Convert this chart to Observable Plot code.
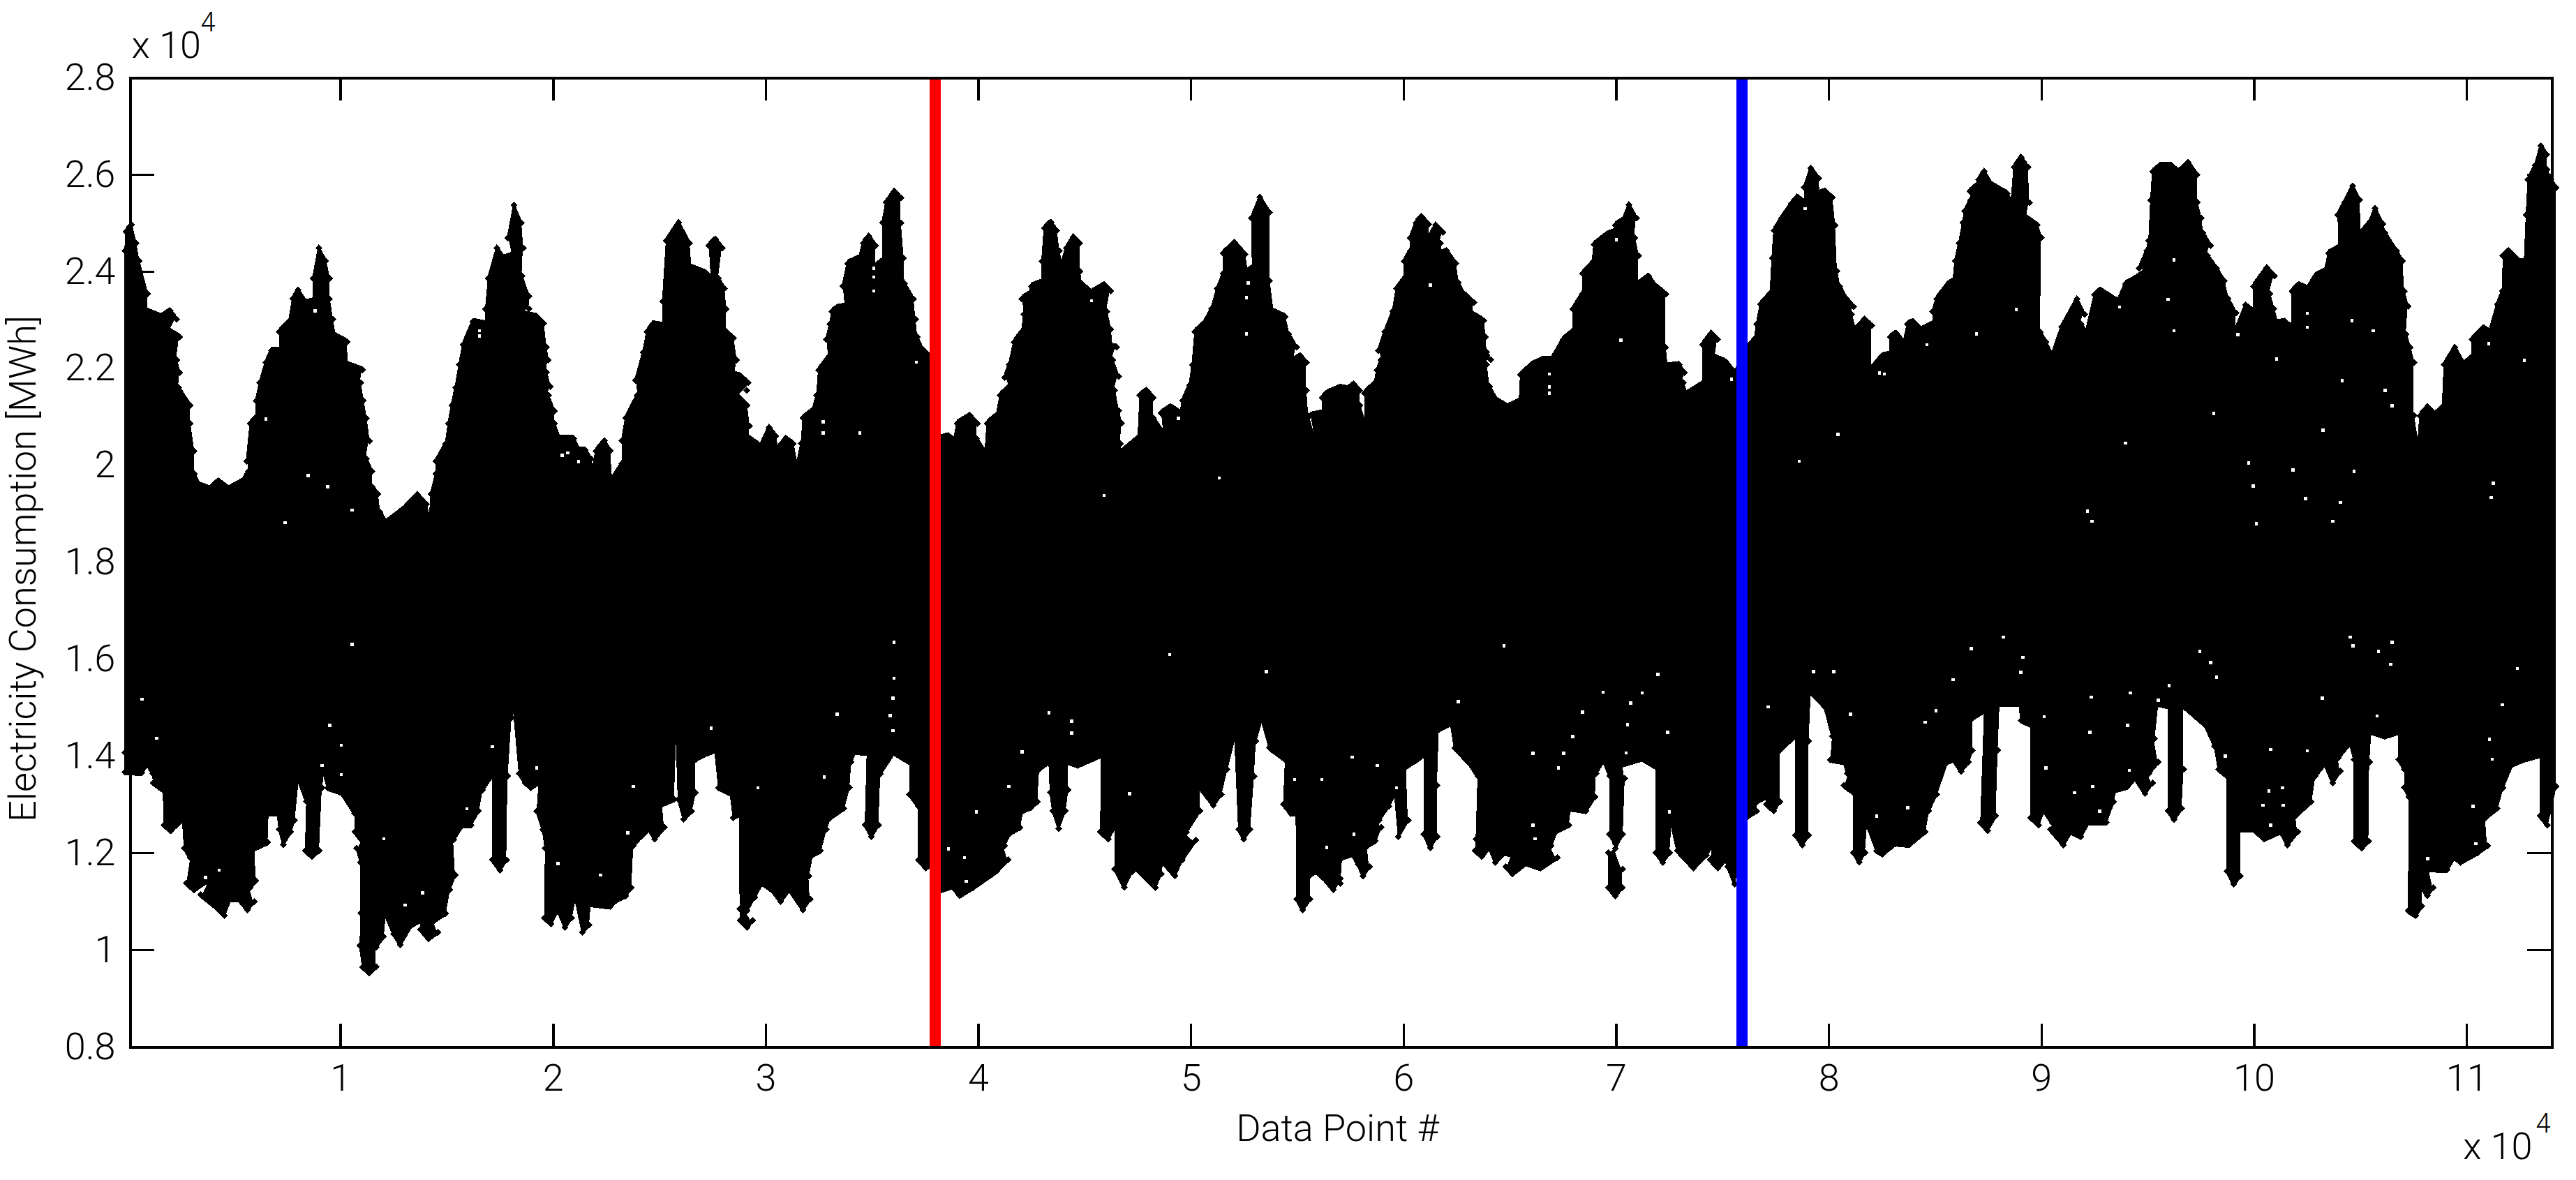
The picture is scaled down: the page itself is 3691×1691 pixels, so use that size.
<!DOCTYPE html>
<html>
<head>
<meta charset="utf-8">
<style>html,body{margin:0;padding:0;background:#fff}</style>
<script src="https://cdn.jsdelivr.net/npm/d3@7"></script>
<script src="https://cdn.jsdelivr.net/npm/@observablehq/plot@0.6"></script>
</head>
<body>
<div id="chart"></div>
<script>
// All values are in the chart's axis units (both axes are "x 10^4").
const xTicks = [1,2,3,4,5,6,7,8,9,10,11];
const yTicks = [0.8,1,1.2,1.4,1.6,1.8,2,2.2,2.4,2.6,2.8];
const xTitle = "Data Point #";
const yTitle = "Electricity Consumption [MWh]";
const splitRed = 3.797;
const splitBlue = 7.59;
const innerBand = 1.7;

// Upper edge of the point cloud
const upperA = [[-.015,2.45],[-.01,2.49],[.017,2.504],[.038,2.466],[.052,2.429],[.092,2.361],[.092,2.325],[.156,2.314],[.198,2.326],[.229,2.309],[.201,2.283],[.243,2.272],[.229,2.225],[.243,2.199],[.238,2.168],[.292,2.131],[.292,2.094],[.311,2.037],[.311,1.99],[.338,1.966],[.384,1.959],[.425,1.975],[.475,1.959],[.538,1.974],[.566,1.995],[.557,2.016],[.575,2.094],[.602,2.105],[.602,2.141],[.62,2.178],[.648,2.22],[.675,2.244],[.711,2.244],[.711,2.283],[.757,2.304],[.775,2.351],[.799,2.369],[.839,2.343],[.87,2.346],[.87,2.393],[.897,2.456],[.93,2.429],[.948,2.393],[.948,2.351],[.963,2.309],[.975,2.275],[1.03,2.262],[1.034,2.215],[1.103,2.204],[1.094,2.178],[1.107,2.141],[1.121,2.105],[1.136,2.058],[1.121,2.021],[1.148,1.995],[1.148,1.963],[1.176,1.948],[1.185,1.911],[1.216,1.89],[1.294,1.916],[1.361,1.947],[1.403,1.927],[1.418,1.901],[1.425,1.948],[1.449,1.99],[1.449,2.016],[1.494,2.052],[1.507,2.094],[1.522,2.131],[1.54,2.168],[1.558,2.215],[1.576,2.257],[1.622,2.304],[1.682,2.299],[1.682,2.33],[1.695,2.393],[1.735,2.456],[1.768,2.435],[1.804,2.44],[1.786,2.477],[1.815,2.544],[1.85,2.508],[1.859,2.456],[1.853,2.398],[1.886,2.356],[1.886,2.33],[1.868,2.319],[1.923,2.314],[1.955,2.301],[1.968,2.251],[1.977,2.225],[1.968,2.199],[1.986,2.17],[1.977,2.152],[2.005,2.12],[2.005,2.094],[2.032,2.063],[2.095,2.063],[2.123,2.039],[2.15,2.039],[2.177,2.021],[2.186,2],[2.201,2.037],[2.241,2.058],[2.268,2.037],[2.277,1.979],[2.323,2.011],[2.323,2.058],[2.341,2.105],[2.396,2.152],[2.387,2.183],[2.423,2.241],[2.441,2.283],[2.468,2.299],[2.514,2.296],[2.514,2.346],[2.532,2.471],[2.59,2.509],[2.641,2.466],[2.65,2.416],[2.723,2.403],[2.741,2.393],[2.732,2.461],[2.763,2.474],[2.796,2.456],[2.778,2.393],[2.805,2.372],[2.814,2.33],[2.814,2.283],[2.847,2.27]];
const upperB = [[2.862,2.225],[2.856,2.194],[2.883,2.191],[2.916,2.178],[2.911,2.162],[2.874,2.147],[2.911,2.131],[2.923,2.089],[2.923,2.063],[2.974,2.047],[3.015,2.086],[3.047,2.068],[3.056,2.042],[3.093,2.063],[3.129,2.052],[3.147,2.011],[3.166,2.052],[3.175,2.105],[3.22,2.12],[3.239,2.152],[3.248,2.204],[3.293,2.23],[3.284,2.267],[3.302,2.299],[3.311,2.325],[3.339,2.333],[3.371,2.335],[3.361,2.377],[3.384,2.424],[3.439,2.435],[3.457,2.466],[3.484,2.48],[3.517,2.461],[3.517,2.419],[3.548,2.429],[3.548,2.508],[3.566,2.55],[3.603,2.573],[3.635,2.56],[3.635,2.508],[3.648,2.435],[3.652,2.382],[3.694,2.351],[3.703,2.309],[3.712,2.272],[3.739,2.246],[3.77,2.233],[3.825,2.064],[3.858,2.068],[3.885,2.06],[3.9,2.094],[3.961,2.11],[3.994,2.094],[3.991,2.063],[4.031,2.035],[4.04,2.094],[4.085,2.11],[4.103,2.152],[4.14,2.168],[4.122,2.189],[4.144,2.215],[4.167,2.262],[4.204,2.283],[4.213,2.319],[4.204,2.351],[4.24,2.361],[4.249,2.377],[4.298,2.385],[4.298,2.429],[4.309,2.497],[4.34,2.509],[4.368,2.492],[4.38,2.45],[4.391,2.424],[4.413,2.456],[4.446,2.479],[4.477,2.466],[4.477,2.408],[4.486,2.382],[4.531,2.364],[4.592,2.38],[4.622,2.367],[4.604,2.325],[4.622,2.288],[4.631,2.251],[4.65,2.251],[4.631,2.225],[4.659,2.191],[4.641,2.162],[4.659,2.12],[4.673,2.094],[4.668,2.052],[4.673,2.035],[4.75,2.063],[4.759,2.152],[4.792,2.162],[4.823,2.147],[4.823,2.105],[4.868,2.076],[4.859,2.115],[4.905,2.128],[4.95,2.115],[4.959,2.141],[4.992,2.173],[5.005,2.215],[5.018,2.283],[5.059,2.299],[5.096,2.33],[5.123,2.372],[5.151,2.403],[5.151,2.445],[5.205,2.467],[5.254,2.443],[5.265,2.408],[5.287,2.414],[5.284,2.518],[5.324,2.561],[5.369,2.529],[5.369,2.388],[5.387,2.325],[5.442,2.314],[5.46,2.278],[5.496,2.251],[5.484,2.225],[5.515,2.233],[5.542,2.22],[5.542,2.162],[5.551,2.11],[5.579,2.065],[5.56,2.11],[5.615,2.115],[5.615,2.147],[5.642,2.157],[5.702,2.168]];
const upperC = [[5.735,2.165],[5.766,2.175],[5.793,2.162],[5.793,2.131],[5.815,2.1],[5.815,2.157],[5.862,2.175],[5.875,2.204],[5.893,2.225],[5.88,2.244],[5.911,2.283],[5.948,2.325],[5.966,2.372],[6.002,2.393],[6.002,2.429],[6.03,2.45],[6.03,2.477],[6.057,2.508],[6.084,2.521],[6.117,2.505],[6.117,2.477],[6.15,2.503],[6.185,2.488],[6.172,2.466],[6.179,2.445],[6.203,2.45],[6.245,2.424],[6.257,2.385],[6.285,2.361],[6.33,2.343],[6.325,2.319],[6.376,2.306],[6.385,2.272],[6.39,2.241],[6.409,2.225],[6.39,2.215],[6.403,2.17],[6.44,2.141],[6.489,2.128],[6.543,2.139],[6.549,2.194],[6.603,2.215],[6.658,2.226],[6.694,2.225],[6.749,2.267],[6.795,2.283],[6.795,2.33],[6.84,2.361],[6.84,2.403],[6.886,2.424],[6.895,2.463],[6.958,2.484],[6.995,2.49],[6.995,2.503],[7.031,2.513],[7.059,2.545],[7.095,2.518],[7.086,2.477],[7.104,2.44],[7.104,2.382],[7.153,2.398],[7.186,2.377],[7.232,2.361],[7.232,2.251],[7.241,2.212],[7.295,2.215],[7.319,2.199],[7.314,2.178],[7.332,2.155],[7.405,2.175],[7.405,2.257],[7.446,2.28],[7.477,2.267],[7.465,2.23],[7.514,2.221],[7.559,2.199],[7.616,2.251],[7.65,2.267],[7.66,2.299],[7.678,2.34],[7.723,2.361],[7.732,2.435],[7.741,2.492],[7.778,2.518],[7.823,2.547],[7.851,2.561],[7.884,2.55],[7.884,2.581],[7.915,2.621],[7.951,2.6],[7.956,2.568],[7.982,2.573],[8.015,2.56],[8.029,2.503],[8.038,2.408],[8.051,2.377],[8.084,2.351],[8.115,2.335],[8.106,2.319],[8.124,2.288],[8.169,2.309],[8.2,2.296],[8.2,2.207],[8.224,2.22],[8.251,2.233],[8.284,2.236],[8.288,2.272],[8.315,2.28],[8.352,2.262],[8.37,2.299],[8.397,2.304],[8.434,2.287],[8.488,2.299],[8.488,2.325],[8.506,2.351],[8.557,2.38]];
const upperD = [[8.584,2.388],[8.593,2.429],[8.612,2.466],[8.63,2.508],[8.639,2.532],[8.666,2.555],[8.663,2.573],[8.694,2.584],[8.703,2.597],[8.73,2.614],[8.766,2.587],[8.794,2.579],[8.839,2.568],[8.857,2.552],[8.87,2.623],[8.903,2.643],[8.936,2.623],[8.943,2.55],[8.93,2.518],[8.979,2.503],[8.999,2.477],[8.994,2.283],[9.021,2.262],[9.049,2.236],[9.094,2.293],[9.167,2.351],[9.203,2.319],[9.185,2.299],[9.209,2.283],[9.249,2.359],[9.276,2.369],[9.322,2.356],[9.358,2.346],[9.395,2.382],[9.431,2.39],[9.477,2.403],[9.458,2.414],[9.495,2.45],[9.504,2.471],[9.513,2.555],[9.522,2.613],[9.559,2.626],[9.613,2.626],[9.644,2.613],[9.69,2.632],[9.732,2.607],[9.732,2.55],[9.75,2.518],[9.759,2.487],[9.795,2.461],[9.781,2.44],[9.823,2.414],[9.859,2.388],[9.877,2.351],[9.914,2.322],[9.914,2.288],[9.959,2.338],[9.996,2.325],[9.996,2.377],[10.059,2.415],[10.096,2.398],[10.074,2.361],[10.092,2.33],[10.11,2.301],[10.145,2.304],[10.174,2.293],[10.178,2.367],[10.21,2.38],[10.25,2.372],[10.287,2.398],[10.332,2.408],[10.351,2.445],[10.396,2.456],[10.393,2.524],[10.424,2.55],[10.464,2.584],[10.496,2.555],[10.502,2.487],[10.542,2.508],[10.569,2.538],[10.606,2.505],[10.615,2.487],[10.669,2.45],[10.697,2.429],[10.706,2.367],[10.724,2.335],[10.715,2.278],[10.733,2.251],[10.751,2.22],[10.751,2.11],[10.77,2.055],[10.779,2.11],[10.815,2.128],[10.851,2.113],[10.884,2.126],[10.893,2.215],[10.943,2.251],[10.988,2.217],[11.024,2.23],[11.024,2.267],[11.079,2.291],[11.106,2.283],[11.143,2.34],[11.167,2.367],[11.17,2.44],[11.197,2.45],[11.252,2.427],[11.27,2.427],[11.279,2.524],[11.288,2.597],[11.321,2.626],[11.347,2.667],[11.376,2.649],[11.376,2.618],[11.394,2.597],[11.42,2.58]];

// Lower edge of the point cloud
const lowerA = [[-.015,1.4],[-.015,1.36],[.065,1.359],[.092,1.376],[.116,1.357],[.119,1.338],[.165,1.323],[.169,1.251],[.201,1.239],[.256,1.261],[.265,1.203],[.292,1.184],[.274,1.131],[.311,1.117],[.374,1.136],[.342,1.107],[.411,1.083],[.453,1.064],[.484,1.098],[.52,1.098],[.562,1.076],[.593,1.093],[.575,1.122],[.602,1.136],[.597,1.203],[.657,1.215],[.662,1.275],[.702,1.275],[.711,1.242],[.73,1.21],[.766,1.237],[.784,1.261],[.802,1.342],[.839,1.299],[.833,1.198],[.866,1.186],[.899,1.198],[.912,1.328],[.921,1.357],[.939,1.328],[1.003,1.318],[1.066,1.275],[1.066,1.237],[1.094,1.222],[1.076,1.203],[1.094,1.174],[1.094,1.069],[1.09,1.002],[1.103,.958],[1.134,.946],[1.167,.958],[1.167,.999],[1.203,1.021],[1.212,1.064],[1.249,1.026],[1.281,1.004],[1.336,1.045],[1.376,1.054],[1.376,1.035],[1.412,1.016],[1.458,1.03],[1.44,1.054],[1.494,1.069],[1.513,1.117],[1.54,1.148],[1.531,1.22],[1.576,1.251],[1.613,1.251],[1.649,1.28],[1.667,1.323],[1.713,1.352],[1.713,1.179],[1.749,1.158],[1.78,1.179],[1.786,1.352],[1.804,1.472],[1.813,1.489],[1.84,1.357],[1.868,1.338],[1.895,1.328],[1.931,1.338],[1.922,1.28],[1.95,1.242],[1.962,1.203],[1.959,1.059],[1.99,1.047],[2.022,1.074],[2.055,1.04],[2.086,1.059],[2.104,1.098],[2.137,1.03],[2.168,1.045],[2.177,1.088],[2.268,1.083],[2.305,1.098],[2.341,1.105],[2.368,1.122],[2.377,1.208],[2.414,1.227],[2.45,1.242],[2.478,1.222],[2.523,1.246],[2.514,1.294],[2.569,1.304],[2.578,1.429],[2.587,1.304],[2.614,1.263],[2.651,1.28],[2.669,1.318],[2.669,1.386],[2.705,1.395],[2.76,1.405],[2.778,1.328],[2.833,1.316],[2.847,1.266]];
const lowerB = [[2.874,1.273],[2.878,1.078],[2.878,1.054],[2.911,1.04],[2.938,1.054],[2.911,1.074],[2.947,1.102],[2.984,1.131],[3.029,1.117],[3.069,1.093],[3.111,1.117],[3.175,1.076],[3.208,1.098],[3.202,1.146],[3.22,1.189],[3.257,1.198],[3.284,1.242],[3.302,1.266],[3.366,1.285],[3.393,1.328],[3.402,1.381],[3.421,1.402],[3.475,1.4],[3.466,1.251],[3.497,1.227],[3.53,1.251],[3.539,1.357],[3.603,1.4],[3.676,1.381],[3.676,1.314],[3.717,1.29],[3.717,1.179],[3.752,1.162],[3.77,1.167],[3.825,1.117],[3.876,1.124],[3.912,1.105],[3.976,1.122],[4.085,1.155],[4.14,1.179],[4.122,1.208],[4.149,1.234],[4.195,1.246],[4.209,1.28],[4.246,1.287],[4.277,1.299],[4.286,1.366],[4.331,1.381],[4.337,1.318],[4.349,1.28],[4.377,1.244],[4.409,1.28],[4.422,1.323],[4.422,1.381],[4.468,1.374],[4.577,1.395],[4.573,1.237],[4.61,1.222],[4.641,1.246],[4.641,1.16],[4.686,1.122],[4.723,1.155],[4.741,1.162],[4.832,1.122],[4.859,1.15],[4.868,1.174],[4.923,1.146],[4.959,1.179],[5.023,1.22],[4.978,1.237],[5.041,1.28],[5.041,1.328],[5.105,1.292],[5.141,1.314],[5.169,1.366],[5.205,1.429],[5.223,1.242],[5.247,1.222],[5.278,1.242],[5.296,1.352],[5.305,1.424],[5.333,1.467],[5.369,1.41],[5.442,1.386],[5.433,1.294],[5.469,1.275],[5.493,1.275],[5.496,1.098],[5.524,1.076],[5.56,1.098],[5.56,1.148],[5.588,1.155],[5.624,1.141],[5.669,1.117],[5.702,1.141]];
const lowerC = [[5.702,1.131],[5.711,1.184],[5.757,1.191],[5.784,1.17],[5.808,1.146],[5.839,1.165],[5.829,1.208],[5.866,1.218],[5.893,1.246],[5.884,1.261],[5.93,1.29],[5.957,1.314],[5.975,1.227],[6.021,1.261],[6.012,1.371],[6.066,1.386],[6.094,1.395],[6.094,1.232],[6.124,1.204],[6.157,1.227],[6.157,1.333],[6.166,1.448],[6.221,1.46],[6.239,1.41],[6.303,1.381],[6.348,1.352],[6.339,1.222],[6.336,1.198],[6.367,1.186],[6.403,1.203],[6.43,1.174],[6.476,1.194],[6.503,1.191],[6.481,1.165],[6.512,1.15],[6.576,1.172],[6.645,1.162],[6.722,1.184],[6.694,1.208],[6.722,1.239],[6.776,1.251],[6.785,1.285],[6.858,1.28],[6.9,1.309],[6.904,1.357],[6.94,1.383],[6.968,1.352],[6.968,1.232],[6.995,1.213],[6.962,1.194],[6.962,1.122],[6.995,1.105],[7.028,1.122],[7.028,1.16],[6.995,1.203],[7.031,1.232],[7.04,1.347],[7.031,1.376],[7.122,1.388],[7.186,1.371],[7.186,1.194],[7.219,1.174],[7.25,1.194],[7.259,1.251],[7.286,1.198],[7.363,1.162],[7.423,1.189],[7.45,1.208],[7.441,1.179],[7.477,1.162],[7.514,1.179],[7.523,1.165],[7.556,1.129],[7.616,1.268],[7.66,1.28],[7.66,1.299],[7.705,1.309],[7.705,1.294],[7.741,1.28],[7.769,1.299],[7.769,1.405],[7.842,1.434],[7.842,1.23],[7.874,1.21],[7.905,1.23],[7.905,1.424],[7.915,1.525],[7.978,1.496],[8.015,1.434],[8.006,1.386],[8.069,1.381],[8.087,1.357],[8.069,1.333],[8.115,1.318],[8.115,1.194],[8.142,1.174],[8.169,1.194],[8.179,1.251],[8.224,1.198],[8.251,1.191],[8.315,1.213],[8.379,1.21],[8.452,1.237],[8.47,1.28],[8.506,1.314],[8.557,1.381]];
const lowerD = [[8.584,1.386],[8.621,1.362],[8.657,1.381],[8.675,1.405],[8.675,1.472],[8.73,1.486],[8.712,1.256],[8.745,1.239],[8.785,1.27],[8.794,1.405],[8.803,1.501],[8.894,1.501],[8.903,1.467],[8.949,1.458],[8.949,1.266],[8.985,1.251],[9.012,1.28],[9.049,1.256],[9.04,1.242],[9.103,1.21],[9.14,1.237],[9.185,1.227],[9.222,1.256],[9.304,1.256],[9.34,1.299],[9.349,1.323],[9.404,1.33],[9.44,1.347],[9.486,1.316],[9.522,1.338],[9.504,1.357],[9.549,1.381],[9.531,1.429],[9.549,1.501],[9.595,1.496],[9.595,1.28],[9.622,1.262],[9.659,1.285],[9.668,1.366],[9.668,1.496],[9.768,1.458],[9.813,1.414],[9.832,1.366],[9.872,1.352],[9.872,1.155],[9.904,1.129],[9.935,1.146],[9.935,1.242],[9.996,1.242],[10.047,1.222],[10.123,1.237],[10.156,1.21],[10.205,1.237],[10.196,1.27],[10.269,1.299],[10.287,1.352],[10.332,1.376],[10.369,1.338],[10.405,1.362],[10.396,1.39],[10.451,1.419],[10.469,1.386],[10.469,1.218],[10.505,1.203],[10.538,1.218],[10.542,1.381],[10.551,1.443],[10.615,1.434],[10.679,1.443],[10.679,1.386],[10.706,1.366],[10.706,1.328],[10.728,1.309],[10.724,1.074],[10.76,1.064],[10.788,1.083],[10.788,1.122],[10.815,1.105],[10.842,1.122],[10.824,1.16],[10.906,1.158],[10.943,1.184],[10.97,1.174],[11.052,1.194],[11.097,1.208],[11.088,1.266],[11.143,1.285],[11.17,1.328],[11.216,1.376],[11.27,1.386],[11.343,1.395],[11.343,1.27],[11.379,1.251],[11.394,1.28],[11.42,1.33]];

// Small gaps inside the cloud
const gapsUpper = [[.879,2.319],[.648,2.096],[.848,1.979],[.939,1.956],[1.054,1.908],[.739,1.882],[1.653,2.278],[1.653,2.267],[2.041,2.021],[2.068,2.026],[2.119,2.008],[3.508,2.407],[3.508,2.389],[3.508,2.36],[3.708,2.213],[3.269,2.09],[3.269,2.067],[3.442,2.067],[5.26,2.346],[5.26,2.272],[5.269,2.377],[5.132,1.974],[4.59,1.938],[4.531,2.34],[4.941,2.097],[6.126,2.372],[7,2.466],[7.022,2.259],[6.685,2.162],[6.685,2.149],[6.685,2.189],[7.541,2.178],[7.887,2.53],[8.042,2.064],[7.86,2.009],[8.461,2.249],[8.237,2.191],[8.26,2.189],[8.694,2.272],[8.881,2.322],[9.622,2.424],[9.595,2.343],[9.622,2.278],[9.923,2.27],[9.367,2.327],[10.25,2.314],[10.25,2.285],[10.105,2.22],[10.46,2.299],[10.56,2.278],[10.414,2.175],[10.615,2.155],[10.648,2.123],[9.81,2.107],[10.323,2.073],[9.395,2.046],[9.974,2.005],[10.183,1.991],[10.469,1.988],[9.996,1.958],[10.241,1.932],[10.405,1.924],[11.125,1.963],[11.115,1.934],[9.216,1.906],[9.236,1.885],[10.01,1.88],[10.369,1.885],[11.27,2.217],[11.103,2.251]];
const gapsLower = [[1.054,1.631],[.065,1.518],[.134,1.437],[.948,1.464],[1.003,1.423],[.912,1.381],[1.003,1.362],[1.203,1.23],[1.303,1.093],[1.385,1.118],[1.713,1.42],[1.594,1.292],[1.922,1.376],[2.742,1.458],[2.377,1.338],[2.35,1.242],[.429,1.165],[.365,1.15],[2.223,1.155],[2.022,1.179],[3.603,1.635],[3.603,1.561],[3.597,1.52],[3.585,1.484],[3.597,1.453],[3.335,1.487],[3.275,1.357],[2.962,1.335],[4.899,1.61],[5.353,1.575],[4.331,1.49],[4.437,1.472],[4.437,1.448],[4.204,1.409],[4.143,1.338],[3.99,1.285],[4.71,1.323],[5.487,1.352],[5.615,1.352],[5.638,1.212],[3.858,1.209],[3.934,1.191],[3.943,1.142],[6.472,1.628],[6.257,1.513],[7.195,1.569],[6.937,1.532],[7.122,1.531],[7.068,1.51],[6.84,1.491],[7.053,1.465],[7.241,1.449],[6.795,1.441],[7.046,1.407],[6.607,1.406],[6.753,1.406],[6.727,1.376],[5.875,1.381],[5.757,1.398],[5.966,1.335],[7.927,1.575],[8.022,1.575],[7.714,1.502],[8.102,1.487],[8.503,1.494],[8.452,1.47],[8.37,1.294],[8.224,1.277],[5.766,1.239],[6.607,1.258],[6.618,1.23],[7.25,1.285],[8.821,1.646],[8.67,1.622],[8.912,1.604],[8.903,1.573],[8.584,1.558],[9.744,1.616],[9.795,1.593],[9.823,1.563],[9.599,1.546],[9.417,1.531],[9.234,1.522],[9.549,1.516],[9.012,1.482],[9.404,1.464],[9.227,1.449],[9.021,1.376],[9.413,1.371],[9.24,1.338],[9.154,1.325],[9.273,1.287],[9.864,1.4],[10.32,1.52],[10.451,1.646],[10.465,1.628],[10.648,1.635],[10.584,1.616],[10.642,1.59],[10.578,1.483],[10.078,1.414],[10.25,1.411],[10.069,1.328],[10.132,1.335],[10.041,1.299],[10.136,1.299],[10.078,1.258],[11.167,1.506],[11.238,1.581],[11.106,1.435],[11.119,1.394],[11.03,1.297],[11.043,1.22],[10.815,1.189]];

const upper = [...upperA, ...upperB, ...upperC, ...upperD];
const lower = [...lowerA, ...lowerB, ...lowerC, ...lowerD];
const gaps = [...gapsUpper, ...gapsLower];

const W = 3691, H = 1691;
const M = {l: 186, t: 111, r: 35, b: 191};
const frameH = H - M.t - M.b, frameW = W - M.l - M.r;
const tickLen = 33;
const fs = 54;
const font = "Roboto, 'Liberation Sans', Arial, sans-serif";
const light = {fontWeight: 300, fill: "#000"};
const crisp = {shapeRendering: "crispEdges"};

const chart = Plot.plot({
  width: W, height: H,
  marginLeft: M.l, marginTop: M.t, marginRight: M.r, marginBottom: M.b,
  style: {background: "#fff", fontFamily: font, color: "#000", overflow: "visible"},
  x: {domain: [0.01, 11.4], label: null},
  y: {domain: [0.8, 2.8], label: null},
  marks: [
    // point cloud
    Plot.areaY(upper, {x: d => d[0], y1: () => innerBand, y2: d => d[1], fill: "#000", ...crisp}),
    Plot.areaY(lower, {x: d => d[0], y1: d => d[1], y2: () => innerBand, fill: "#000", ...crisp}),
    Plot.dot(upper, {x: d => d[0], y: d => d[1], dy: 5, r: 4.5, symbol: "diamond2", fill: "#000", stroke: "none", ...crisp}),
    Plot.dot(lower, {x: d => d[0], y: d => d[1], dy: -5, r: 4.5, symbol: "diamond2", fill: "#000", stroke: "none", ...crisp}),
    Plot.dot(gaps, {x: d => d[0], y: d => d[1], r: 2.6, symbol: "square", fill: "#fff", stroke: "none", ...crisp}),
    // split markers
    Plot.ruleX([splitRed], {stroke: "#ff0000", strokeWidth: 16.5, ...crisp}),
    Plot.ruleX([splitBlue], {stroke: "#0000ff", strokeWidth: 16.5, ...crisp}),
    // box and inward ticks
    Plot.frame({stroke: "#000", strokeWidth: 4, ...crisp}),
    Plot.ruleX(xTicks, {stroke: "#000", strokeWidth: 3.5, insetBottom: frameH - tickLen, ...crisp}),
    Plot.ruleX(xTicks, {stroke: "#000", strokeWidth: 3.5, insetTop: frameH - tickLen, ...crisp}),
    Plot.ruleY(yTicks, {stroke: "#000", strokeWidth: 3.5, insetRight: frameW - 35, ...crisp}),
    Plot.ruleY(yTicks, {stroke: "#000", strokeWidth: 3.5, insetLeft: frameW - 35, ...crisp}),
    // tick labels
    Plot.axisX({ticks: xTicks, tickSize: 0, tickPadding: 24, fontSize: fs, fontWeight: 300, label: null, tickFormat: d => String(d)}),
    Plot.axisY({ticks: yTicks, tickSize: 0, tickPadding: 21, fontSize: fs, fontWeight: 300, label: null, tickFormat: d => String(d)}),
    // axis titles
    Plot.text([xTitle], {frameAnchor: "bottom", dx: -5, dy: 134, fontSize: fs, ...light}),
    Plot.text([yTitle], {frameAnchor: "left", textAnchor: "middle", rotate: -90, dx: -153, dy: 9, fontSize: fs, ...light}),
    // exponents
    Plot.text(["x 10"], {frameAnchor: "top-left", textAnchor: "start", dx: 2, dy: -67, fontSize: fs, ...light}),
    Plot.text(["4"], {frameAnchor: "top-left", textAnchor: "start", dx: 101, dy: -93, fontSize: 38, ...light}),
    Plot.text(["x 10"], {frameAnchor: "bottom-right", textAnchor: "end", dx: -28, dy: 160, fontSize: fs, ...light}),
    Plot.text(["4"], {frameAnchor: "bottom-right", textAnchor: "end", dx: -2, dy: 122, fontSize: 38, ...light})
  ]
});
document.getElementById("chart").appendChild(chart);
</script>
</body>
</html>
